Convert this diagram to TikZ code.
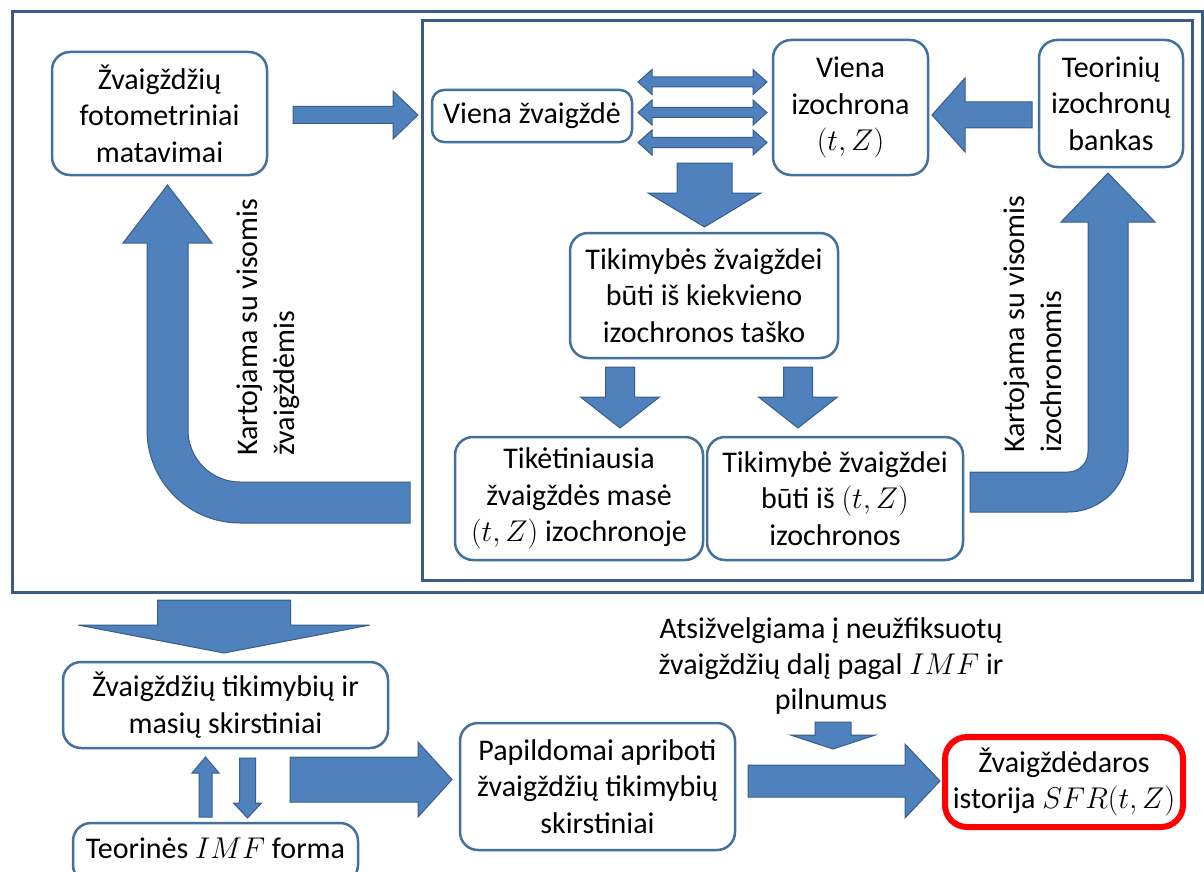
\documentclass[tikz,border=0pt]{standalone}
\usepackage{fix-cm}
\usepackage{fontspec}
\setmainfont{Carlito}
\definecolor{abl}{HTML}{4F81BD}
\definecolor{aed}{HTML}{385D8A}
\definecolor{bxe}{HTML}{41719C}
\definecolor{frm}{HTML}{3A5A87}
\newcommand\bigtxt{\fontsize{30}{36.5}\selectfont}
\tikzset{
  box/.style={draw=bxe, line width=2.5pt, rounded corners=18pt, fill=white, align=center, inner sep=0pt, font=\bigtxt},
  redbox/.style={draw=red, line width=6pt, rounded corners=22pt, fill=white, align=center, inner sep=0pt, font=\bigtxt},
  blk/.style={fill=abl, draw=aed, line width=1pt, line join=miter},
  frame/.style={draw=frm, line width=3pt},
  vlbl/.style={font=\bigtxt, align=left, inner sep=0pt, rotate=90, anchor=north west},
  plain/.style={font=\fontsize{30}{35.5}\selectfont, align=center, inner sep=0pt},
}
\begin{document}
\begin{tikzpicture}[x=1pt,y=-1pt]
\useasboundingbox (0,0) rectangle (1204,872);
\clip (0,0) rectangle (1204,872);
\fill[white] (0,0) rectangle (1204,872);
% frames
\draw[frame] (12,12) rectangle (1202,592);
\draw[frame] (422,21) rectangle (1192,580);
% nodes
\node[box, minimum width=215pt, minimum height=123pt] (A) at (159.5,113.5) {Žvaigždžių\\fotometriniai\\matavimai};
\node[box, minimum width=200pt, minimum height=52pt, rounded corners=12pt] (B) at (532,116) {Viena žvaigždė};
\node[box, minimum width=155pt, minimum height=135pt] (C) at (850.5,107.5) {Viena\\izochrona\\$(t,Z)$};
\node[box, minimum width=144pt, minimum height=127pt] (D) at (1111,103.5) {Teorinių\\izochronų\\bankas};
\node[box, minimum width=268pt, minimum height=125pt] (E) at (704,295.5) {Tikimybės žvaigždei\\būti iš kiekvieno\\izochronos taško};
\node[box, minimum width=248pt, minimum height=123pt] (F) at (579,498.5) {Tikėtiniausia\\žvaigždės masė\\$(t,Z)$ izochronoje};
\node[box, minimum width=256pt, minimum height=123pt] (G) at (835,498.5) {Tikimybė žvaigždei\\būti iš $(t,Z)$\\izochronos};
\node[box, minimum width=325pt, minimum height=86pt] (H) at (225.5,705) {Žvaigždžių tikimybių ir\\masių skirstiniai};
\node[box, minimum width=285pt, minimum height=60pt, text height=21pt, text depth=11pt] (I) at (215.5,853) {Teorinės $IMF$ forma};
\node[box, minimum width=275pt, minimum height=127pt] (J) at (597.5,786.5) {Papildomai apriboti\\žvaigždžių tikimybių\\skirstiniai};
\node[redbox, minimum width=238pt, minimum height=90pt] (K) at (1064,782) {Žvaigždėdaros\\istorija $SFR(t,Z)$};
\node[plain] (L) at (831,666) {Atsižvelgiama į neužfiksuotų\\žvaigždžių dalį pagal $IMF$ ir\\pilnumus};
\node[vlbl] (LL) at (237,456) {Kartojama su visomis\\žvaigždėmis};
\node[vlbl] (LR) at (1004,453) {Kartojama su visomis\\izochronomis};
% A -> B
\draw[blk] (293,106.5) -- (393,106.5) -- (393,91) -- (418,115) -- (393,139) -- (393,123.5) -- (293,123.5) -- cycle;
% double arrows B <-> C
\foreach \yy in {82,112.5,142.5}{
  \draw[blk] (638,\yy) -- (652,\yy-12.5) -- (652,\yy-5) -- (753,\yy-5) -- (753,\yy-12.5) -- (767,\yy) -- (753,\yy+12.5) -- (753,\yy+5) -- (652,\yy+5) -- (652,\yy+12.5) -- cycle;
}
% D -> C
\draw[blk] (1032,102) -- (965,102) -- (965,78) -- (932,115) -- (965,152) -- (965,128) -- (1032,128) -- cycle;
% down to E
\draw[blk] (677,163) -- (732,163) -- (732,193) -- (761,193) -- (704.5,227) -- (648,193) -- (677,193) -- cycle;
% E -> F, E -> G
\foreach \xx in {620,798}{
  \draw[blk] (\xx-14.5,367) -- (\xx+14.5,367) -- (\xx+14.5,397) -- (\xx+39.5,397) -- (\xx,428) -- (\xx-39.5,397) -- (\xx-14.5,397) -- cycle;
}
% left curved arrow (repeat with all stars)
\draw[blk] (410,482) -- (240,482) arc[start angle=90, end angle=180, radius=52] -- (188,243) -- (212,243) -- (167.5,185) -- (123,243) -- (147,243) -- (147,430) arc[start angle=180, end angle=90, radius=93] -- (410,523) -- cycle;
% right curved arrow (repeat with all isochrones)
\draw[blk] (970,472) -- (1068,472) arc[start angle=90, end angle=0, radius=20] -- (1088,222) -- (1061,222) -- (1108,173) -- (1155,222) -- (1128,222) -- (1128,452) arc[start angle=0, end angle=90, radius=60] -- (970,512) -- cycle;
% big down arrow to H
\draw[blk] (157.5,600) -- (290.5,600) -- (290.5,625) -- (370,625) -- (224,653) -- (78,625) -- (157.5,625) -- cycle;
% I -> H (up)
\draw[blk] (199,817) -- (199,773) -- (192,773) -- (205.5,757) -- (219,773) -- (212,773) -- (212,817) -- cycle;
% H -> I (down)
\draw[blk] (239.5,758) -- (255.5,758) -- (255.5,803) -- (261.5,803) -- (247.5,818) -- (233.5,803) -- (239.5,803) -- cycle;
% H -> J
\draw[blk] (290,757) -- (418,757) -- (418,742) -- (452,779.5) -- (418,817) -- (418,802) -- (290,802) -- cycle;
% J -> K
\draw[blk] (748,765) -- (905,765) -- (905,744) -- (940,781) -- (905,818) -- (905,797) -- (748,797) -- cycle;
% L -> arrow
\draw[blk] (815,722) -- (851,722) -- (851,735) -- (875.5,735) -- (833,749) -- (790.5,735) -- (815,735) -- cycle;
\end{tikzpicture}
\end{document}
